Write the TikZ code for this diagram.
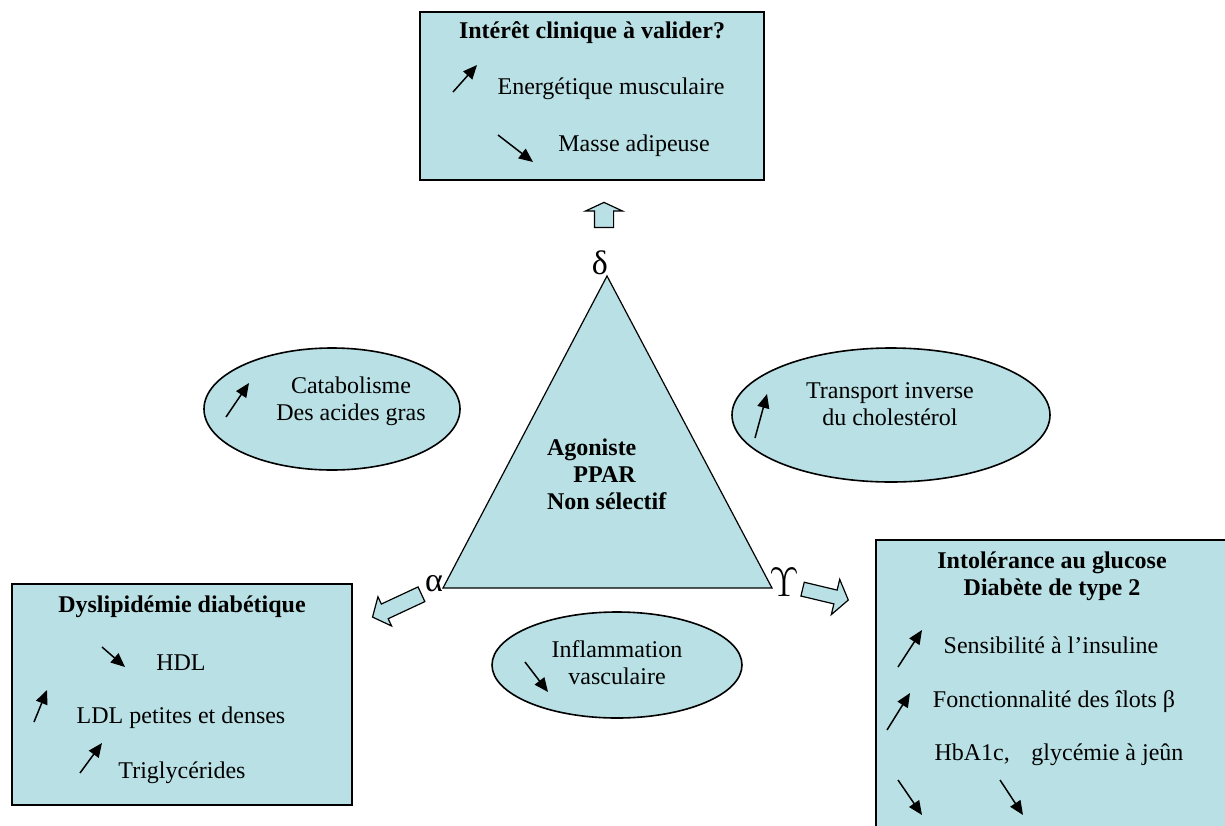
\documentclass[tikz,border=0pt]{standalone}
\usepackage[no-math]{fontspec}
\setmainfont{Liberation Serif}
\usetikzlibrary{arrows.meta}
\usetikzlibrary{shapes}
\definecolor{ppar}{RGB}{185,224,228}

\tikzset{
    box/.style={draw, line width=1pt, fill=ppar, inner sep=0pt},
    bubble/.style={draw, ellipse, line width=0.8pt, fill=ppar, inner sep=0pt},
    fat/.style={draw, fill=ppar, single arrow, inner xsep=0pt, line width=0.6pt, anchor=tail},
    trend/.style={-{Triangle[length=7pt,width=6pt]}, line width=0.75pt},
    txt/.style={font=\fontsize{12}{13.5}\selectfont},
    hd/.style={font=\fontsize{12}{13.5}\selectfont\bfseries, align=center},
    greek/.style={font=\fontsize{17}{19}\selectfont},
}

\begin{document}
\begin{tikzpicture}[x=0.5pt, y=-0.5pt]

    \useasboundingbox (0, 0) rectangle (1225, 825);
    \clip (0, 0) rectangle (1225, 825);

    % Declare the boxes
    \node[box, minimum width=172pt, minimum height=84pt] at (592, 96) (delta) {};
    \node[box, minimum width=170pt, minimum height=110.5pt] at (182, 694.5) (alpha) {};
    \node[box, minimum width=182pt, minimum height=150pt] at (1058, 690) (gamma) {};

    % Declare the ellipses
    \node[bubble, minimum width=128pt, minimum height=61pt] at (332, 409) (catab) {};
    \node[bubble, minimum width=159pt, minimum height=67pt] at (891, 415) (transp) {};
    \node[bubble, minimum width=125pt, minimum height=53pt] at (617, 665) (inflam) {};

    % Declare the triangle
    \coordinate (apex) at (607, 276);
    \coordinate (left) at (443, 588);
    \coordinate (right) at (772, 588);
    \draw[fill=ppar, line width=0.6pt] (left) -- (apex) -- (right) -- cycle;

    \node[txt, font=\fontsize{12}{13.5}\selectfont\bfseries, align=left, anchor=west] at (540, 474) (agon)
        {Agoniste\\\hspace{1.1em}PPAR\\Non sélectif};

    % Declare corner letters
    \node[greek] at (600, 263) (d) {δ};
    \node[greek] at (434, 584) (a) {α};
    \node[greek, font=\fontsize{21}{24}\selectfont] at (784, 582) (g) {$\Upsilon$};

    % Declare block arrows
    \node[fat, rotate=90, inner ysep=4.5pt, minimum height=12.5pt,
        single arrow head extend=4.5pt, single arrow tip angle=130] at (604, 228) (up) {};
    \node[fat, rotate=205, inner ysep=3.75pt, minimum height=27pt,
        single arrow head extend=4pt, single arrow tip angle=100] at (422, 594) (dl) {};
    \node[fat, rotate=-13.4, inner ysep=3.25pt, minimum height=23.5pt,
        single arrow head extend=5.5pt, single arrow tip angle=108] at (802, 589) (dr) {};

    % Declare texts
    \node[hd] at (592, 33) (t0) {Intérêt clinique à valider?};
    \node[txt] at (611, 89) (t1) {Energétique musculaire};
    \node[txt] at (634, 146) (t2) {Masse adipeuse};

    \node[hd] at (182, 607) (l0) {Dyslipidémie diabétique};
    \node[txt] at (181, 663) (l1) {HDL};
    \node[txt] at (181, 718) (l2) {LDL petites et denses};
    \node[txt] at (182, 773) (l3) {Triglycérides};

    \node[hd] at (1052, 576) (r0) {Intolérance au glucose\\Diabète de type 2};
    \node[txt] at (1051, 645) (r1) {Sensibilité à l’insuline};
    \node[txt] at (1054, 702) (r2) {Fonctionnalité des îlots β};
    \node[txt] at (1059, 755) (r3) {HbA1c,\hspace{0.9em}glycémie à jeûn};

    \node[txt, align=center] at (351, 401) (c1) {Catabolisme\\Des acides gras};
    \node[txt, align=center] at (890, 404) (c2) {Transport inverse\\du cholestérol};
    \node[txt, align=center] at (617, 663) (c3) {Inflammation\\vasculaire};

    % Declare trend arrows
    \draw[trend] (453, 92) -- (477, 65);
    \draw[trend] (498, 135) -- (533, 162);
    \draw[trend] (226, 417) -- (249, 383);
    \draw[trend] (755, 438) -- (767, 394);
    \draw[trend] (525, 662) -- (548, 692);
    \draw[trend] (102, 647) -- (125, 667);
    \draw[trend] (34, 722) -- (47, 690);
    \draw[trend] (80, 773) -- (102, 743);
    \draw[trend] (898, 667) -- (922, 630);
    \draw[trend] (887, 730) -- (910, 693);
    \draw[trend] (898, 780) -- (922, 815);
    \draw[trend] (1000, 780) -- (1023, 815);

\end{tikzpicture}
\end{document}
